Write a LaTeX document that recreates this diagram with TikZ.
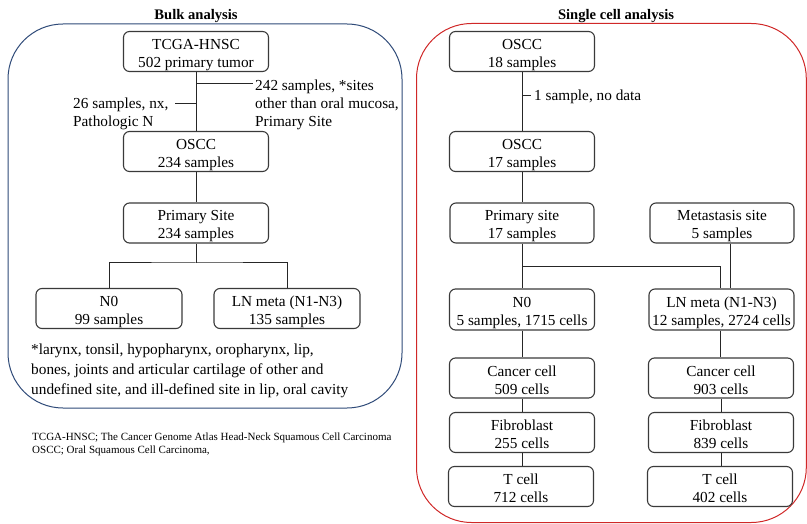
\documentclass[tikz,border=0pt]{standalone}
\usepackage{fontspec}
\setmainfont{Liberation Serif}
\usetikzlibrary{positioning}
\definecolor{navy}{HTML}{2E4A78}
\definecolor{frame}{HTML}{D02828}
\definecolor{boxline}{HTML}{3A3A3A}
\begin{document}
\begin{tikzpicture}[x=1pt,y=-1pt,
  stepbox/.style={draw=boxline, line width=1.1pt, rounded corners=6pt, align=center,
    minimum width=145pt, minimum height=40pt, inner xsep=1pt, inner ysep=0.5pt,
    text height=35.5pt, text depth=3.5pt,
    font=\fontsize{15.3}{18}\selectfont},
  conn/.style={draw=black!85, line width=1pt},
  lbl/.style={align=left, inner sep=0pt, font=\fontsize{15.3}{18}\selectfont},
  ttl/.style={inner sep=0pt, font=\bfseries\fontsize{14.6}{17}\selectfont},
  note/.style={align=left, inner sep=0pt, font=\fontsize{11}{13}\selectfont}]
\useasboundingbox (0,0) rectangle (807,524);

% panels
\draw[navy, line width=1pt, rounded corners=55pt] (8,24) rectangle (402,408);
\draw[frame, line width=1pt, rounded corners=55pt] (416.5,23.5) rectangle (806.3,522.5);
\node[ttl] (t1) at (196,16.5) {Bulk analysis};
\node[ttl] (t2) at (616,16.5) {Single cell analysis};

% bulk
\node[stepbox] (tcga) at (196,51.5) {TCGA-HNSC\\502 primary tumor};
\node[stepbox] (oscc) at (196,151.5) {OSCC\\234 samples};
\node[stepbox] (prim) at (196,223) {Primary Site\\234 samples};
\node[stepbox, minimum width=146pt] (n0) at (109,308.5) {N0\\99 samples};
\node[stepbox, minimum width=146pt] (ln) at (287,308.5) {LN meta (N1-N3)\\135 samples};

\draw[conn] (tcga.south) -- (oscc.north);
\coordinate (br) at (196,84);
\coordinate (bre) at (253,84);
\draw[conn] (br) -- (bre);
\node[lbl, anchor=north west] (exc1) at (255,80) {242 samples, *sites\\other than oral mucosa,\\Primary Site};
\coordinate (bl) at (196,103.5);
\coordinate (ble) at (175,103.5);
\draw[conn] (bl) -- (ble);
\node[lbl, anchor=north west] (exc2) at (73,98) {26 samples, nx,\\Pathologic N};
\draw[conn] (oscc.south) -- (prim.north);
\coordinate (jl) at (196,263);
\draw[conn] (prim.south) -- (jl);
\draw[conn] (n0.north) |- (jl) -| (ln.north);

\node[lbl, anchor=north west, font=\fontsize{15.3}{19.6}\selectfont] (foot) at (31,344) {*larynx, tonsil, hypopharynx, oropharynx, lip,\\bones, joints and articular cartilage of other and\\undefined site, and ill-defined site in lip, oral cavity};
\node[note, anchor=north west] (abbr) at (32,433) {TCGA-HNSC; The Cancer Genome Atlas Head-Neck Squamous Cell Carcinoma\\OSCC; Oral Squamous Cell Carcinoma,};

% single cell
\node[stepbox] (o18) at (522,51.5) {OSCC\\18 samples};
\node[stepbox] (o17) at (522,151.5) {OSCC\\17 samples};
\node[stepbox, minimum width=144pt] (ps) at (522,223) {Primary site\\17 samples};
\node[stepbox, minimum width=144pt] (ms) at (722,223) {Metastasis site\\5 samples};
\node[stepbox, minimum height=41pt] (rn0) at (522,309.5) {N0\\5 samples, 1715 cells};
\node[stepbox, minimum height=41pt] (rln) at (721.5,309.5) {LN meta (N1-N3)\\12 samples, 2724 cells};
\node[stepbox] (cc1) at (522,378) {Cancer cell\\509 cells};
\node[stepbox] (cc2) at (721,378) {Cancer cell\\903 cells};
\node[stepbox] (fb1) at (522,432.5) {Fibroblast\\255 cells};
\node[stepbox] (fb2) at (721,432.5) {Fibroblast\\839 cells};
\node[stepbox] (tc1) at (521,486.5) {T cell\\712 cells};
\node[stepbox] (tc2) at (720,486.5) {T cell\\402 cells};

\draw[conn] (o18.south) -- (o17.north);
\coordinate (sb) at (522,96);
\coordinate (sbe) at (531,96);
\draw[conn] (sb) -- (sbe);
\node[lbl, anchor=west] (exc3) at (534,97) {1 sample, no data};
\draw[conn] (o17.south) -- (ps.north);
\draw[conn] (ps.south) -- (rn0.north);
\coordinate (jr) at (522,267);
\draw[conn] (jr) -| ([xshift=-1.5pt]rln.north);
\draw[conn] ([xshift=8pt]ms.south) -- ([xshift=8.5pt]rln.north);
\draw[conn] (rn0.south) -- (cc1.north);
\draw[conn] (cc1.south) -- (fb1.north);
\draw[conn] (fb1.south) -- ([xshift=1pt]tc1.north);
\draw[conn] ([xshift=-1.5pt]rln.south) -- ([xshift=-1pt]cc2.north);
\draw[conn] (cc2.south) -- (fb2.north);
\draw[conn] (fb2.south) -- ([xshift=1pt]tc2.north);
\end{tikzpicture}
\end{document}
